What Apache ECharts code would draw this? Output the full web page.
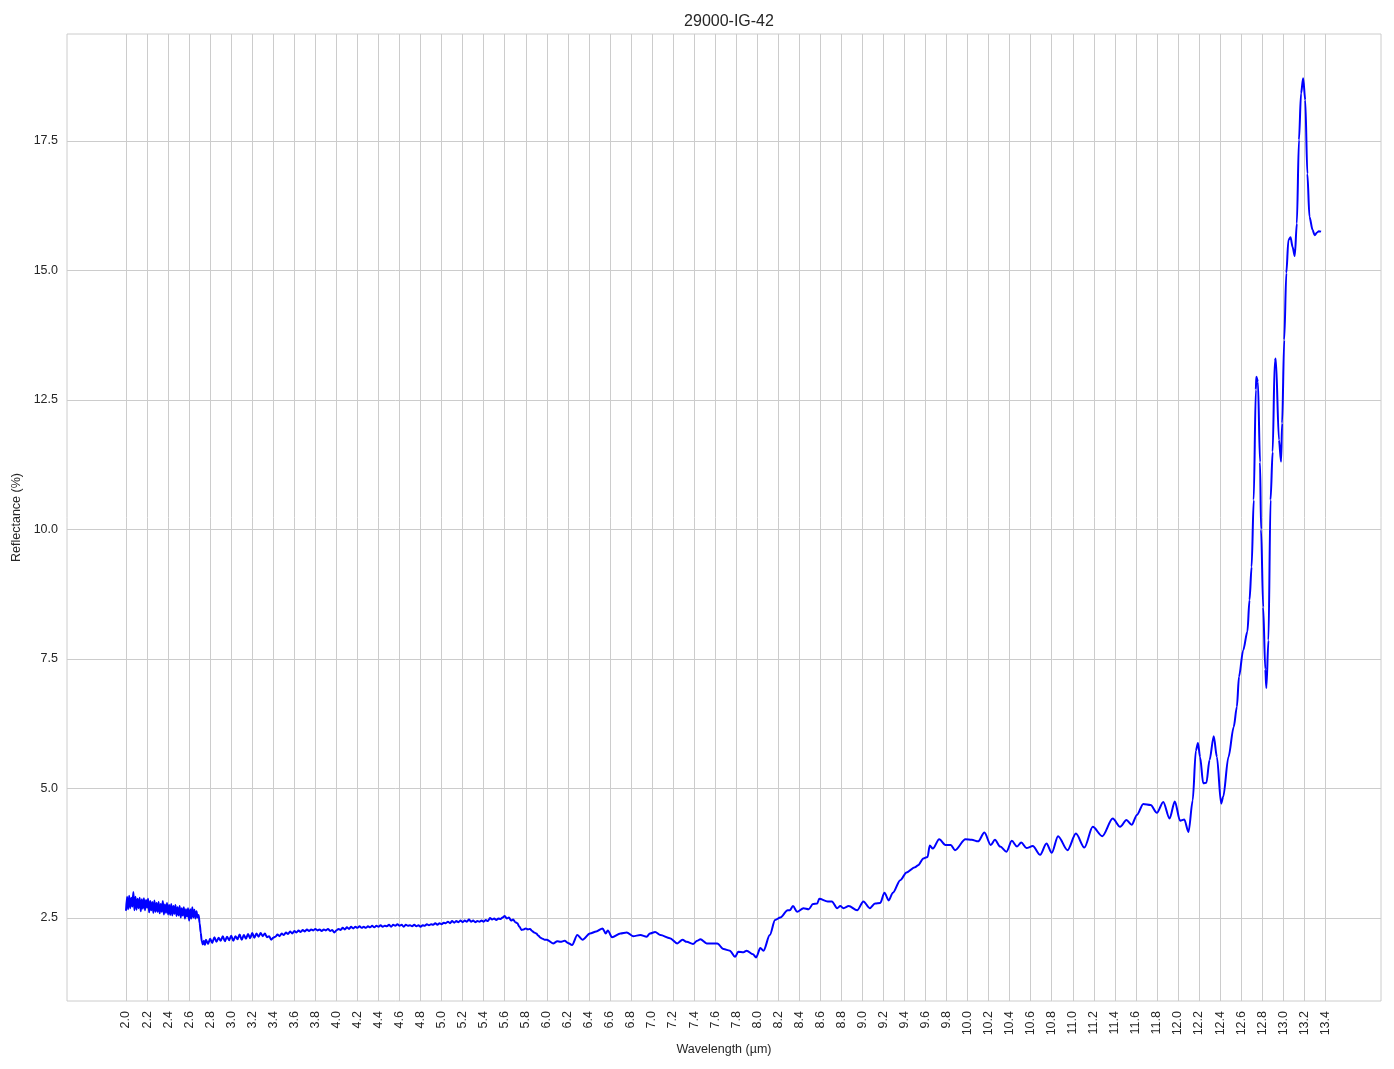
<!DOCTYPE html>
<html>
<head>
<meta charset="utf-8">
<script src="https://cdn.jsdelivr.net/npm/echarts@6/dist/echarts.min.js"></script>
<style>
html,body{margin:0;padding:0;background:#fff;}
#chart{width:1394px;height:1069px;}
</style>
</head>
<body>
<div id="chart"></div>
<script>
// Dense, noisy start of the spectrum (sampled every 0.01 µm from 2.00)
const noisyStart = 2.00;
const noisyStep = 0.01;
const noisyReflectance = [
  2.64,2.91,2.67,2.93,2.69,2.89,2.72,3.00,2.65,2.91,
  2.66,2.87,2.69,2.89,2.63,2.86,2.68,2.88,2.65,2.85,
  2.70,2.87,2.61,2.83,2.65,2.81,2.60,2.84,2.62,2.79,
  2.62,2.81,2.59,2.77,2.62,2.83,2.57,2.76,2.60,2.79,
  2.57,2.75,2.56,2.77,2.55,2.73,2.58,2.75,2.54,2.71,
  2.55,2.73,2.51,2.69,2.55,2.71,2.49,2.67,2.53,2.69,
  2.45,2.67,2.49,2.71,2.51,2.66,2.49,2.63,2.51,2.56,
  2.40,2.22,2.05,1.99,2.06,1.98
];
// Middle section (sampled every 0.02 µm from 2.76)
const midStart = 2.76;
const midStep = 0.02;
const midReflectance = [
  2.08,2.00,2.10,2.02,2.13,2.04,2.12,2.06,2.15,2.05,
  2.14,2.07,2.16,2.06,2.15,2.09,2.18,2.08,2.17,2.10,
  2.19,2.11,2.21,2.12,2.20,2.14,2.21,2.15,2.20,2.13,
  2.15,2.08,2.12,2.14,2.18,2.15,2.20,2.17,2.22,2.19,
  2.24,2.20,2.25,2.22,2.26,2.23,2.27,2.24,2.28,2.25,
  2.28,2.26,2.29,2.26,2.28,2.25,2.28,2.26,2.29,2.25,
  2.27,2.22,2.26,2.29,2.27,2.31,2.28,2.32,2.29,2.33,
  2.30,2.33,2.31,2.34,2.31,2.33,2.31,2.34,2.32,2.35,
  2.32,2.35,2.33,2.36,2.33,2.35,2.34,2.37,2.33,2.37,
  2.35,2.38,2.35,2.37,2.33,2.37,2.35,2.36,2.34,2.37,
  2.34,2.36,2.33,2.36,2.35,2.38,2.36,2.38,2.37,2.40,
  2.37,2.40,2.38,2.41,2.40,2.43,2.40,2.44,2.41,2.44,
  2.42,2.45,2.42,2.45,2.43,2.47,2.43,2.45,2.42,2.44,
  2.43,2.45,2.43,2.46,2.44,2.50,2.47,2.49,2.46,2.49,
  2.48,2.51,2.54,2.49,2.51,2.45,2.47,2.42,2.40,2.33,
  2.27,2.28,2.30,2.28,2.29,2.25,2.22,2.20,2.16,2.12,
  2.10,2.08
];
// Smooth long-wavelength part
const tailWavelength = [
  6.00,6.06,6.10,6.13,6.17,6.20,6.24,6.29,6.34,6.41,6.47,6.53,6.56,6.58,6.62,6.70,6.76,6.82,6.89,6.95,
  6.98,7.03,7.08,7.17,7.24,7.29,7.33,7.39,7.43,7.46,7.52,7.62,7.68,7.74,7.79,7.82,7.87,7.90,7.96,7.99,
  8.03,8.06,8.12,8.17,8.22,8.29,8.31,8.34,8.38,8.44,8.49,8.53,8.57,8.59,8.67,8.71,8.76,8.79,8.82,8.87,
  8.95,9.01,9.07,9.12,9.17,9.21,9.25,9.29,9.36,9.42,9.50,9.53,9.58,9.62,9.64,9.67,9.73,9.79,9.84,9.88,
  9.98,10.04,10.10,10.16,10.22,10.26,10.31,10.37,10.42,10.47,10.51,10.56,10.62,10.69,10.75,10.80,10.86,10.95,11.03,11.11,
  11.19,11.28,11.38,11.45,11.51,11.56,11.61,11.67,11.74,11.80,11.86,11.92,11.97,12.02,12.06,12.10,12.14,12.17,12.19,12.21,
  12.24,12.27,12.30,12.34,12.37,12.41,12.43,12.48,12.53,12.56,12.58,12.62,12.66,12.68,12.70,12.72,12.74,12.745,12.76,12.78,
  12.79,12.81,12.83,12.84,12.86,12.88,12.90,12.92,12.93,12.96,12.98,12.99,13.01,13.03,13.05,13.07,13.09,13.11,13.13,13.15,
  13.17,13.19,13.21,13.23,13.25,13.28,13.30,13.32,13.34,13.36
];
const tailReflectance = [
  2.08,2.01,2.05,2.04,2.06,2.02,1.98,2.17,2.08,2.20,2.24,2.30,2.20,2.26,2.13,2.20,2.22,2.15,2.17,2.14,
  2.20,2.23,2.17,2.11,2.01,2.08,2.04,2.00,2.06,2.09,2.01,2.01,1.90,1.87,1.75,1.85,1.84,1.87,1.80,1.74,
  1.92,1.87,2.17,2.46,2.51,2.65,2.65,2.73,2.62,2.69,2.67,2.77,2.78,2.87,2.82,2.82,2.69,2.73,2.69,2.73,
  2.65,2.82,2.69,2.78,2.79,2.99,2.84,2.99,3.23,3.38,3.48,3.52,3.65,3.68,3.90,3.84,4.02,3.91,3.91,3.81,
  4.02,4.01,3.98,4.15,3.91,4.01,3.88,3.78,3.99,3.88,3.96,3.85,3.89,3.72,3.94,3.76,4.08,3.81,4.13,3.86,
  4.26,4.08,4.42,4.26,4.39,4.30,4.49,4.70,4.68,4.53,4.74,4.42,4.75,4.38,4.40,4.16,4.77,5.73,5.88,5.61,
  5.10,5.11,5.55,6.01,5.61,4.71,4.84,5.61,6.19,6.58,7.16,7.67,8.03,8.64,9.28,10.57,12.70,12.95,12.85,11.30,
  10.00,8.50,7.30,6.94,7.86,10.57,11.50,13.25,13.30,11.73,11.31,12.05,13.66,14.95,15.59,15.64,15.45,15.28,15.91,17.52,
  18.42,18.71,18.29,16.87,16.04,15.78,15.68,15.73,15.76,15.75
];
const xTicks = [2.0,2.2,2.4,2.6,2.8,3.0,3.2,3.4,3.6,3.8,4.0,4.2,4.4,4.6,4.8,5.0,5.2,5.4,5.6,5.8,
  6.0,6.2,6.4,6.6,6.8,7.0,7.2,7.4,7.6,7.8,8.0,8.2,8.4,8.6,8.8,9.0,9.2,9.4,9.6,9.8,
  10.0,10.2,10.4,10.6,10.8,11.0,11.2,11.4,11.6,11.8,12.0,12.2,12.4,12.6,12.8,13.0,13.2,13.4];
const yTicks = [2.5,5.0,7.5,10.0,12.5,15.0,17.5];
const xRange = [1.439, 13.93];
const yRange = [0.898, 19.566];

const points = [];
noisyReflectance.forEach((v,i)=>points.push([+(noisyStart+i*noisyStep).toFixed(3), v]));
midReflectance.forEach((v,i)=>points.push([+(midStart+i*midStep).toFixed(3), v]));
tailWavelength.forEach((w,i)=>points.push([w, tailReflectance[i]]));

const FONT = '"Liberation Sans", Arial, sans-serif';
const TXT = '#262626';
const chart = echarts.init(document.getElementById('chart'), null, {renderer:'canvas'});
chart.setOption({
  animation:false,
  backgroundColor:'#ffffff',
  title:{text:'29000-IG-42', left:724, top:9, textAlign:'center',
    textStyle:{fontFamily:FONT, fontSize:16, fontWeight:'normal', color:TXT}},
  grid:{left:67, right:13, top:34, bottom:68, containLabel:false, show:true, borderColor:'#cccccc', borderWidth:1},
  xAxis:{type:'value', min:xRange[0], max:xRange[1],
    name:'Wavelength (µm)', nameLocation:'middle', nameGap:39,
    nameTextStyle:{fontFamily:FONT, fontSize:12.5, color:TXT},
    axisLine:{show:false}, axisTick:{show:false, customValues:xTicks},
    axisLabel:{customValues:xTicks, rotate:90, margin:10, fontFamily:FONT, fontSize:12.5, color:TXT,
      formatter:v=>v.toFixed(1)},
    splitLine:{show:true, lineStyle:{color:'#cccccc', width:1}}},
  yAxis:{type:'value', min:yRange[0], max:yRange[1],
    name:'Reflectance (%)', nameLocation:'middle', nameGap:37, nameRotate:90,
    nameTextStyle:{fontFamily:FONT, fontSize:12.5, color:TXT},
    axisLine:{show:false}, axisTick:{show:false, customValues:yTicks},
    axisLabel:{customValues:yTicks, margin:9, fontFamily:FONT, fontSize:12.5, color:TXT,
      formatter:v=>v.toFixed(1)},
    splitLine:{show:true, lineStyle:{color:'#cccccc', width:1}}},
  series:[{type:'line', data:points, showSymbol:false, symbol:'none',
    smooth:0.3, smoothMonotone:'x',
    lineStyle:{color:'#0000ff', width:2}, itemStyle:{color:'#0000ff'}}]
});
</script>
</body>
</html>
